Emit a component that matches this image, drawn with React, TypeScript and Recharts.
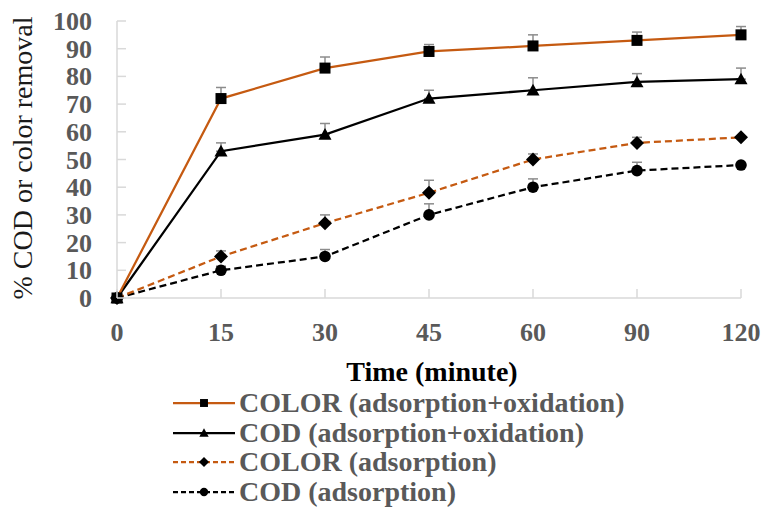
import React from 'react';
import { LineChart, Line, XAxis, YAxis, ErrorBar, Legend } from 'recharts';

const times = ['0', '15', '30', '45', '60', '90', '120'];
const colorAdsOx = [0, 72, 83, 89, 91, 93, 95];
const colorAdsOxErr = [0, 4, 4, 2.5, 4, 3, 3];
const codAdsOx = [0, 53, 59, 72, 75, 78, 79];
const codAdsOxErr = [0, 3, 4, 3, 4.5, 3, 4];
const colorAds = [0, 15, 27, 38, 50, 56, 58];
const colorAdsErr = [0, 2, 3, 4.5, 2, 2, 0];
const codAds = [0, 10, 15, 30, 40, 46, 48];
const codAdsErr = [0, 1.5, 2.5, 4, 3, 3, 0];
const yTicks = [0, 10, 20, 30, 40, 50, 60, 70, 80, 90, 100];

const seriesNames = [
  'COLOR (adsorption+oxidation)',
  'COD (adsorption+oxidation)',
  'COLOR (adsorption)',
  'COD (adsorption)',
];

const ORANGE = '#C55A11';
const BLACK = '#000000';
const GRAY_TXT = '#595959';
const AXIS = '#d9d9d9';
const FONT = "Liberation Serif, Times New Roman, DejaVu Serif, serif";

const data = times.map((t, i) => ({
  time: t,
  a: colorAdsOx[i],
  aErr: [0, colorAdsOxErr[i]],
  b: codAdsOx[i],
  bErr: [0, codAdsOxErr[i]],
  c: colorAds[i],
  cErr: [0, colorAdsErr[i]],
  d: codAds[i],
  dErr: [0, codAdsErr[i]],
}));

type Shape = 'square' | 'triangle' | 'diamond' | 'circle';

const Marker = ({ cx, cy, shape, s = 1 }: { cx: number; cy: number; shape: Shape; s?: number }) => {
  if (cx == null || cy == null) return null;
  if (shape === 'square') {
    const h = 5.5 * s;
    return <rect x={cx - h} y={cy - h} width={2 * h} height={2 * h} fill={BLACK} />;
  }
  if (shape === 'triangle') {
    const h = 6.5 * s;
    return <polygon points={`${cx},${cy - h} ${cx + h},${cy + h * 0.8} ${cx - h},${cy + h * 0.8}`} fill={BLACK} />;
  }
  if (shape === 'diamond') {
    const h = 7 * s;
    return <polygon points={`${cx},${cy - h} ${cx + h},${cy} ${cx},${cy + h} ${cx - h},${cy}`} fill={BLACK} />;
  }
  return <circle cx={cx} cy={cy} r={5.8 * s} fill={BLACK} />;
};

const makeDot = (shape: Shape) => (props: any) => (
  <g key={`dot-${shape}-${props.index}`}>
    <Marker cx={props.cx} cy={props.cy} shape={shape} />
  </g>
);

const XTick = (props: any) => {
  const { x, y, payload } = props;
  return (
    <g>
      <line x1={x} x2={x} y1={y} y2={y - 9} stroke={AXIS} strokeWidth={1.5} />
      <text x={x} y={y + 43} textAnchor="middle" style={{ fontFamily: FONT }} fontWeight="bold" fontSize={26} fill={GRAY_TXT}>
        {payload.value}
      </text>
    </g>
  );
};

const YTick = (props: any) => {
  const { x, y, payload } = props;
  return (
    <g>
      <line x1={x} x2={x + 9} y1={y} y2={y} stroke={AXIS} strokeWidth={1.5} />
      <text x={x - 25} y={y + 9} textAnchor="end" style={{ fontFamily: FONT }} fontWeight="bold" fontSize={26} fill={GRAY_TXT}>
        {payload.value}
      </text>
    </g>
  );
};

const legendItems: { name: string; color: string; dash?: string; shape: Shape }[] = [
  { name: seriesNames[0], color: ORANGE, shape: 'square' },
  { name: seriesNames[1], color: BLACK, shape: 'triangle' },
  { name: seriesNames[2], color: ORANGE, dash: '5 3', shape: 'diamond' },
  { name: seriesNames[3], color: BLACK, dash: '5 3', shape: 'circle' },
];

const renderLegend = () => (
  <div style={{ position: 'relative', width: 764, height: 130 }}>
    {legendItems.map((it, i) => (
      <div key={it.name} style={{ position: 'absolute', left: 172, top: i * 29.7, height: 30, display: 'flex', alignItems: 'center' }}>
        <svg width={64} height={30} style={{ display: 'block' }}>
          <line x1={1} x2={63} y1={15} y2={15} stroke={it.color} strokeWidth={2.25} strokeDasharray={it.dash} />
          <Marker cx={32} cy={15} shape={it.shape} s={0.72} />
        </svg>
        <span style={{ fontFamily: FONT, fontWeight: 'bold', fontSize: 28, color: GRAY_TXT, marginLeft: 3, whiteSpace: 'nowrap', lineHeight: '30px' }}>
          {it.name}
        </span>
      </div>
    ))}
  </div>
);

export default function App() {
  return (
    <div style={{ position: 'absolute', left: 0, top: 0, width: 764, height: 522, background: '#fff', fontFamily: FONT }}>
      <LineChart width={764} height={522} data={data} margin={{ top: 21, right: 23, left: 0, bottom: 194 }} style={{ fontFamily: FONT }}>
        <XAxis
          dataKey="time"
          height={30}
          tickSize={0}
          tickMargin={0}
          tick={<XTick />}
          stroke={AXIS}
          strokeWidth={1.5}
          interval={0}
          padding={{ left: 0, right: 0 }}
        />
        <YAxis
          width={117}
          domain={[0, 100]}
          ticks={yTicks}
          tickSize={0}
          tickMargin={0}
          tick={<YTick />}
          stroke={AXIS}
          strokeWidth={1.5}
          interval={0}
        />
        <Legend
          layout="vertical"
          align="center"
          verticalAlign="middle"
          wrapperStyle={{ top: 388, left: 0, width: 764 }}
          content={renderLegend}
        />
        <Line dataKey="d" name={seriesNames[3]} stroke={BLACK} strokeWidth={2.25} strokeDasharray="7 4" dot={makeDot('circle')} isAnimationActive={false}>
          <ErrorBar dataKey="dErr" direction="y" width={5} stroke="#8c8c8c" strokeWidth={1.5} isAnimationActive={false} />
        </Line>
        <Line dataKey="c" name={seriesNames[2]} stroke={ORANGE} strokeWidth={2.25} strokeDasharray="7 4" dot={makeDot('diamond')} isAnimationActive={false}>
          <ErrorBar dataKey="cErr" direction="y" width={5} stroke="#8c8c8c" strokeWidth={1.5} isAnimationActive={false} />
        </Line>
        <Line dataKey="b" name={seriesNames[1]} stroke={BLACK} strokeWidth={2.25} dot={makeDot('triangle')} isAnimationActive={false}>
          <ErrorBar dataKey="bErr" direction="y" width={5} stroke="#8c8c8c" strokeWidth={1.5} isAnimationActive={false} />
        </Line>
        <Line dataKey="a" name={seriesNames[0]} stroke={ORANGE} strokeWidth={2.25} dot={makeDot('square')} isAnimationActive={false}>
          <ErrorBar dataKey="aErr" direction="y" width={5} stroke="#8c8c8c" strokeWidth={1.5} isAnimationActive={false} />
        </Line>
        <text x={22} y={158} transform="rotate(-90 22 158)" textAnchor="middle" dominantBaseline="central" style={{ fontFamily: FONT }} fontSize={28} fill="#1a1a1a">
          % COD or color removal
        </text>
        <text x={432} y={381} textAnchor="middle" style={{ fontFamily: FONT }} fontWeight="bold" fontSize={28} fill="#000">
          Time (minute)
        </text>
      </LineChart>
    </div>
  );
}
